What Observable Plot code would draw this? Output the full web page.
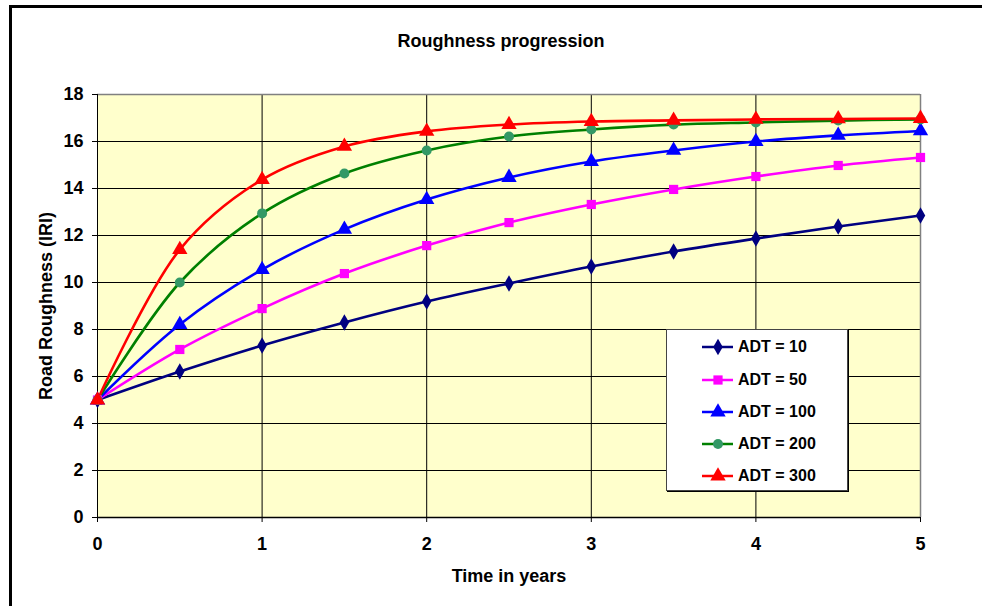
<!DOCTYPE html>
<html>
<head>
<meta charset="utf-8">
<script src="https://cdn.jsdelivr.net/npm/d3@7"></script>
<script src="https://cdn.jsdelivr.net/npm/@observablehq/plot@0.6"></script>
<style>
  body { margin: 0; background: #fff; font-family: "Liberation Sans", Arial, sans-serif; }
  #wrap { position: relative; width: 982px; height: 606px; overflow: hidden; }
  #frame { position: absolute; left: 9px; top: 5px; width: 990px; height: 620px; border-top: 3px solid #000; border-left: 3px solid #000; box-sizing: border-box; pointer-events: none; }
  #title { position: absolute; left: 0; width: 1002px; top: 31px; text-align: center; font-size: 18px; font-weight: bold; color: #000; }
  #legend { position: absolute; left: 666px; top: 329px; width: 182px; height: 162px; background: #fff; border: 1px solid #444; box-shadow: 1px 1px 0 #000; box-sizing: border-box; }
  .lrow { position: absolute; left: 35px; height: 20px; display: flex; align-items: center; font-size: 16px; font-weight: bold; color: #000; }
  .lrow svg { margin-right: 4px; }
  svg { overflow: visible; }
</style>
</head>
<body>
<div id="wrap">
  <div id="chart"></div>
  <div id="frame"></div>
  <div id="title">Roughness progression</div>
  <div id="legend"></div>
</div>
<script>
const years = [0, 0.5, 1, 1.5, 2, 2.5, 3, 3.5, 4, 4.5, 5];
const seriesNames = ["ADT = 10", "ADT = 50", "ADT = 100", "ADT = 200", "ADT = 300"];
const adt10  = [5, 6.21, 7.32, 8.30, 9.19, 9.96, 10.68, 11.32, 11.87, 12.38, 12.85];
const adt50  = [5, 7.15, 8.89, 10.38, 11.57, 12.55, 13.32, 13.96, 14.51, 14.98, 15.32];
const adt100 = [5, 8.21, 10.55, 12.26, 13.53, 14.47, 15.15, 15.62, 16.00, 16.26, 16.45];
const adt200 = [5, 10.0, 12.94, 14.64, 15.62, 16.21, 16.51, 16.72, 16.81, 16.89, 16.94];
const adt300 = [5, 11.4, 14.38, 15.79, 16.43, 16.72, 16.85, 16.90, 16.94, 16.96, 16.98];
const yTicks = [0, 2, 4, 6, 8, 10, 12, 14, 16, 18];
const xTicks = [0, 1, 2, 3, 4, 5];

const styles = [
  {line: "#000080", fill: "#000080", symbol: "diamond", r: 5},
  {line: "#FF00FF", fill: "#FF00FF", symbol: "square", r: 5.2},
  {line: "#0000FF", fill: "#0000FF", symbol: "triangle", r: 5.7},
  {line: "#008000", fill: "#339966", symbol: "circle", r: 5},
  {line: "#FF0000", fill: "#FF0000", symbol: "triangle", r: 5.7}
];
const allSeries = [adt10, adt50, adt100, adt200, adt300];
const data = allSeries.map((vals, i) => years.map((t, j) => ({t, v: vals[j], s: seriesNames[i]})));

const marks = [
  Plot.frame({fill: "#FFFFCC", stroke: null}),
  Plot.gridY(yTicks, {stroke: "#000", strokeOpacity: 1, strokeWidth: 1}),
  Plot.gridX(xTicks, {stroke: "#000", strokeOpacity: 1, strokeWidth: 1}),
  Plot.ruleY([18], {stroke: "#808080", strokeWidth: 1.5}),
  Plot.ruleX([5], {stroke: "#808080", strokeWidth: 1.5}),
  Plot.ruleY([0], {stroke: "#000", strokeWidth: 1.5}),
  Plot.ruleX([0], {stroke: "#000", strokeWidth: 1}),
  Plot.axisY(yTicks, {tickSize: 5, tickPadding: 9, tickFormat: "d", fontSize: 18, fontWeight: "bold", label: null}),
  Plot.axisY({ticks: [], tickSize: 0, fontSize: 18, fontWeight: "bold", label: "Road Roughness (IRI)", labelAnchor: "center", labelArrow: "none", labelOffset: 58}),
  Plot.axisX(xTicks, {tickSize: 5, tickPadding: 15, tickFormat: "d", fontSize: 18, fontWeight: "bold", label: null}),
  Plot.axisX({ticks: [], tickSize: 0, fontSize: 18, fontWeight: "bold", label: "Time in years", labelAnchor: "center", labelArrow: "none", labelOffset: 64})
];
data.forEach((d, i) => {
  const st = styles[i];
  marks.push(Plot.line(d, {x: "t", y: "v", stroke: st.line, strokeWidth: 2.6, curve: "catmull-rom"}));
});
data.forEach((d, i) => {
  const st = styles[i];
  marks.push(Plot.dot(d, {x: "t", y: "v", fill: st.fill, stroke: null, symbol: st.symbol, r: st.r}));
});

const chart = Plot.plot({
  width: 982,
  height: 606,
  marginLeft: 97,
  marginRight: 62,
  marginTop: 94,
  marginBottom: 89,
  style: {fontFamily: "'Liberation Sans', Arial, sans-serif", color: "#000", background: "transparent"},
  x: {domain: [0, 5]},
  y: {domain: [0, 18]},
  marks
});
document.getElementById("chart").appendChild(chart);

// legend
const legend = document.getElementById("legend");
const rowTops = [7, 40, 72, 104, 136];
const symMap = {diamond: d3.symbolDiamond, square: d3.symbolSquare, triangle: d3.symbolTriangle, circle: d3.symbolCircle};
seriesNames.forEach((name, i) => {
  const st = styles[i];
  const row = document.createElement("div");
  row.className = "lrow";
  row.style.top = rowTops[i] + "px";
  const svg = d3.create("svg").attr("width", 32).attr("height", 20);
  svg.append("line").attr("x1", 0).attr("x2", 31).attr("y1", 10).attr("y2", 10).attr("stroke", st.line).attr("stroke-width", 2.5);
  svg.append("path").attr("transform", "translate(16,10)").attr("d", d3.symbol(symMap[st.symbol], Math.PI * st.r * st.r)()).attr("fill", st.fill);
  row.appendChild(svg.node());
  const span = document.createElement("span");
  span.textContent = name;
  row.appendChild(span);
  legend.appendChild(row);
});
</script>
</body>
</html>
